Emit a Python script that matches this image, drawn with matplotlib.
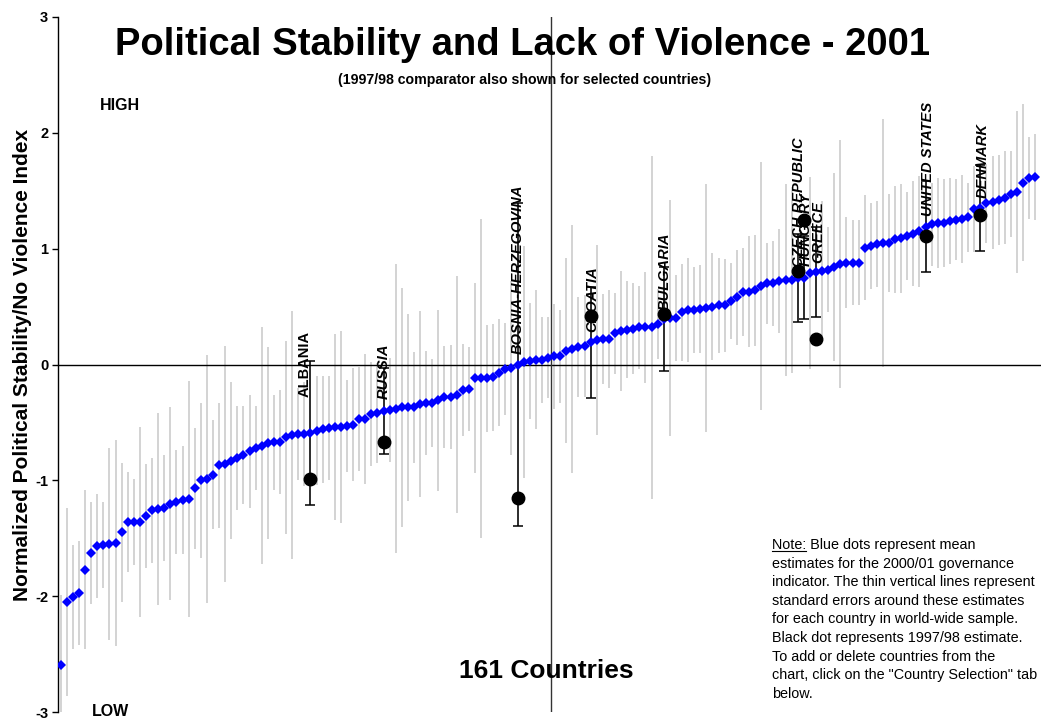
import matplotlib
matplotlib.use("Agg")
import matplotlib.pyplot as plt
import numpy as np

plt.rcParams["font.family"] = ["Liberation Sans", "DejaVu Sans"]
plt.rcParams["axes.unicode_minus"] = False

# 2000/01 point estimates, ranked low to high (161 countries)
estimates_2001 = [
    -2.59, -2.05, -2.01, -1.97, -1.77, -1.63, -1.57, -1.56, -1.55, -1.54,
    -1.45, -1.36, -1.36, -1.36, -1.31, -1.26, -1.25, -1.24, -1.20, -1.19,
    -1.17, -1.16, -1.07, -1.00, -0.99, -0.95, -0.87, -0.86, -0.83, -0.81,
    -0.78, -0.75, -0.72, -0.70, -0.68, -0.67, -0.67, -0.63, -0.61, -0.60,
    -0.60, -0.59, -0.57, -0.56, -0.55, -0.54, -0.54, -0.53, -0.52, -0.47,
    -0.47, -0.43, -0.42, -0.40, -0.39, -0.38, -0.37, -0.37, -0.37, -0.34,
    -0.33, -0.33, -0.31, -0.28, -0.28, -0.26, -0.22, -0.21, -0.12, -0.12,
    -0.12, -0.11, -0.07, -0.04, -0.03, 0.00, 0.02, 0.03, 0.04, 0.04,
    0.06, 0.07, 0.07, 0.12, 0.13, 0.15, 0.16, 0.19, 0.21, 0.22,
    0.22, 0.27, 0.29, 0.30, 0.31, 0.32, 0.32, 0.32, 0.35, 0.39,
    0.40, 0.40, 0.45, 0.47, 0.47, 0.48, 0.49, 0.50, 0.51, 0.51,
    0.55, 0.58, 0.63, 0.63, 0.64, 0.68, 0.70, 0.70, 0.72, 0.73,
    0.73, 0.75, 0.75, 0.79, 0.80, 0.81, 0.82, 0.84, 0.87, 0.88,
    0.88, 0.88, 1.01, 1.02, 1.04, 1.05, 1.05, 1.08, 1.09, 1.11,
    1.13, 1.15, 1.19, 1.21, 1.22, 1.22, 1.24, 1.25, 1.26, 1.27,
    1.34, 1.35, 1.39, 1.40, 1.42, 1.44, 1.47, 1.49, 1.57, 1.61,
    1.62,
]

# standard errors around each estimate
std_errors = [
    0.60, 0.81, 0.45, 0.45, 0.69, 0.44, 0.45, 0.37, 0.83, 0.89,
    0.60, 0.43, 0.37, 0.82, 0.45, 0.45, 0.83, 0.46, 0.83, 0.45,
    0.47, 1.02, 0.52, 0.67, 1.07, 0.47, 0.54, 1.02, 0.68, 0.45,
    0.42, 0.49, 0.36, 1.02, 0.83, 0.41, 0.45, 0.83, 1.07, 0.40,
    0.45, 0.62, 0.47, 0.46, 0.45, 0.80, 0.83, 0.40, 0.49, 0.45,
    0.56, 0.45, 0.43, 0.37, 0.45, 1.25, 1.03, 0.81, 0.48, 0.80,
    0.45, 0.38, 0.78, 0.44, 0.45, 1.02, 0.40, 0.36, 0.82, 1.38,
    0.46, 0.46, 0.46, 0.40, 0.75, 1.39, 1.00, 0.50, 0.60, 0.37,
    0.35, 0.45, 0.40, 0.80, 1.07, 0.43, 0.44, 0.48, 0.82, 0.39,
    0.42, 0.35, 0.52, 0.42, 0.39, 0.36, 0.48, 1.48, 0.30, 0.45,
    1.02, 0.37, 0.42, 0.45, 0.37, 0.38, 1.07, 0.46, 0.41, 0.40,
    0.33, 0.41, 0.38, 0.48, 0.48, 1.07, 0.35, 0.37, 0.45, 0.83,
    0.80, 0.38, 0.36, 0.83, 0.39, 0.60, 0.37, 0.81, 1.07, 0.39,
    0.37, 0.37, 0.45, 0.37, 0.37, 1.07, 0.42, 0.46, 0.47, 0.38,
    0.45, 0.48, 0.39, 0.36, 0.39, 0.38, 0.37, 0.35, 0.38, 0.30,
    0.37, 0.37, 0.34, 0.40, 0.39, 0.40, 0.37, 0.70, 0.68, 0.35,
    0.37,
]

# selected countries: rank position and 1997/98 estimate
sel_names = ["ALBANIA", "RUSSIA", "BOSNIA-HERZEGOVINA", "CROATIA", "BULGARIA",
             "CZECH REPUBLIC", "HUNGARY", "GREECE", "UNITED STATES", "DENMARK"]
sel_rank = [41, 53, 75, 87, 99, 121, 122, 124, 142, 151]
sel_1997 = [-0.99, -0.67, -1.15, 0.42, 0.44, 0.81, 1.25, 0.22, 1.11, 1.29]

# where each country name sits (x in rank units, y = bottom of the rotated label)
label_x = [40.1, 53.1, 75.0, 87.2, 99.1, 121.2, 122.4, 124.3, 142.4, 151.4]
label_y = [-0.28, -0.30, 0.09, 0.28, 0.47, 0.84, 0.85, 0.88, 1.28, 1.44]
label_italic = [False, True, True, True, True, True, True, True, True, True]

N_COUNTRIES = len(estimates_2001)
ranks = np.arange(N_COUNTRIES)
est = np.array(estimates_2001)
se = np.array(std_errors)

fig = plt.figure(figsize=(10.41, 7.2), dpi=100)
ax = fig.add_axes([58 / 1041, 8 / 720, 983 / 1041, 695 / 720])

ax.vlines(ranks, est - se, est + se, color="#c8c8c8", lw=1.1, zorder=1)

sel_est = est[sel_rank]
sel_se = se[sel_rank]
ax.errorbar(sel_rank, sel_est, yerr=sel_se, fmt="none", ecolor="black",
            elinewidth=1.1, capsize=3.5, capthick=1.1, zorder=3)

ax.plot(ranks, est, linestyle="none", marker="D", markersize=5.0,
        color="#0000ff", markeredgewidth=0, zorder=4)
ax.plot(sel_rank, sel_1997, linestyle="none", marker="o", markersize=9.0,
        color="black", zorder=5)

ax.axhline(0, color="black", lw=1.0, zorder=2)
ax.axvline((N_COUNTRIES - 1) / 2 + 0.5, color="#333333", lw=1.0, zorder=2)

for name, lx, ly, it in zip(sel_names, label_x, label_y, label_italic):
    ax.text(lx, ly, name, rotation=90, ha="center", va="bottom", fontsize=10.5,
            fontweight="bold", style="italic" if it else "normal", zorder=6)

ax.set_xlim(-0.45, N_COUNTRIES - 0.05)
ax.set_ylim(-3, 3)
ax.set_yticks([-3, -2, -1, 0, 1, 2, 3])
ax.set_xticks([])
for lab in ax.get_yticklabels():
    lab.set_fontweight("bold")
ax.tick_params(axis="y", direction="out", length=4, width=1, labelsize=10.5, pad=3)
for side in ("top", "right", "bottom"):
    ax.spines[side].set_visible(False)
ax.spines["left"].set_linewidth(1.0)
ax.set_ylabel("Normalized Political Stability/No Violence Index",
              fontsize=15, fontweight="bold", labelpad=2)

ax.text(6.5, 2.24, "HIGH", fontsize=11.5, fontweight="bold", va="center")
ax.text(5.1, -3.0, "LOW", fontsize=11.5, fontweight="bold", va="center")
ax.text(79.7, -2.65, "161 Countries", fontsize=19, fontweight="bold",
        ha="center", va="center")

fig.text(523 / 1041, 1 - 45 / 720, "Political Stability and Lack of Violence - 2001",
         fontsize=27.5, fontweight="bold", ha="center", va="center")
fig.text(525 / 1041, 1 - 80 / 720,
         "(1997/98 comparator also shown for selected countries)",
         fontsize=10.2, fontweight="bold", ha="center", va="center")

note_body = ("Note: Blue dots represent mean\n"
             "estimates for the 2000/01 governance\n"
             "indicator. The thin vertical lines represent\n"
             "standard errors around these estimates\n"
             "for each country in world-wide sample.\n"
             "Black dot represents 1997/98 estimate.\n"
             "To add or delete countries from the\n"
             "chart, click on the \"Country Selection\" tab\n"
             "below.")
nx, ny = 772 / 1041, 1 - 538 / 720
fig.text(nx, ny, note_body, fontsize=10.4, ha="left", va="top", linespacing=1.42)

# underline the "Note:" lead-in
fig.canvas.draw()
renderer = fig.canvas.get_renderer()
probe = fig.text(nx, ny, "Note:", fontsize=10.4, ha="left", va="top", alpha=0)
bb = probe.get_window_extent(renderer).transformed(fig.transFigure.inverted())
under_y = bb.y0 + 0.1 * (bb.y1 - bb.y0)
fig.add_artist(plt.Line2D([bb.x0, bb.x1], [under_y, under_y],
                          transform=fig.transFigure, color="black", lw=0.8))

fig.savefig("out.png", dpi=100)
